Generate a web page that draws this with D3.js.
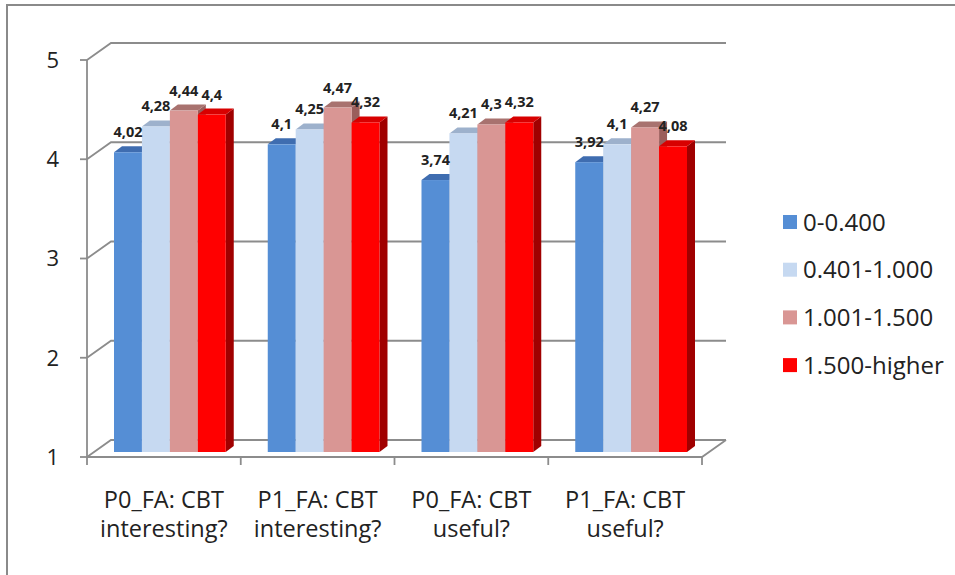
<!DOCTYPE html>
<html><head><meta charset="utf-8">
<script src="https://cdn.jsdelivr.net/npm/d3@7"></script>
<style>html,body{margin:0;padding:0;background:#fff;}svg{display:block;font-family:"Open Sans",sans-serif;}</style>
</head><body>
<svg id="c" width="955" height="575"></svg>
<script>
const categories = [["P0_FA: CBT","interesting?"],["P1_FA: CBT","interesting?"],["P0_FA: CBT","useful?"],["P1_FA: CBT","useful?"]];
const seriesNames = ["0-0.400","0.401-1.000","1.001-1.500","1.500-higher"];
const s1 = [4.02, 4.10, 3.74, 3.92];
const s2 = [4.28, 4.25, 4.21, 4.10];
const s3 = [4.44, 4.47, 4.30, 4.27];
const s4 = [4.40, 4.32, 4.32, 4.08];
const yTicks = [1,2,3,4,5];
const frontColors = ["#558ED5","#C6D9F1","#D99694","#FF0000"];
const topColors   = ["#3F6DB0","#9DB1CC","#A8726F","#D80000"];
const sideColors  = ["#2F5A95","#8FA3BE","#9A5E5C","#A00000"];

const series = [s1,s2,s3,s4];
const svg = d3.select("#c");
const DX = 24, DY = -17;       // wall depth
const bdx = 6, bdy = -5;       // bar front offset
const sdx = 8, sdy = -6;       // bar depth

const y = d3.scaleLinear().domain([1,5]).range([457,60]);
const x0 = d3.scaleBand().domain(d3.range(categories.length)).range([87,702]).padding(0);
const x1 = d3.scaleBand().domain(d3.range(series.length)).range([21, x0.bandwidth()-21]).padding(0);

// border
svg.append("rect").attr("x",7).attr("y",5).attr("width",1000).attr("height",1000)
  .attr("fill","#fff").attr("stroke","#8a8a8a").attr("stroke-width",2);

const grid = svg.append("g").attr("stroke","#8c8c8c").attr("stroke-width",1.8).attr("fill","none");
const x0min = x0.range()[0], x0max = x0.range()[1];
yTicks.forEach(v => {
  const yy = y(v);
  grid.append("path").attr("d", `M${x0min},${yy} L${x0min+DX},${yy+DY} L${x0max+DX},${yy+DY}`);
});
grid.append("line").attr("x1",x0min).attr("x2",x0min).attr("y1",y(5)).attr("y2",y(1));
yTicks.forEach(v => grid.append("line").attr("x1",x0min-7).attr("x2",x0min).attr("y1",y(v)).attr("y2",y(v)));
grid.append("path").attr("d", `M${x0min},${y(1)} L${x0max},${y(1)} L${x0max+DX},${y(1)+DY}`);
d3.range(categories.length+1).forEach(i => {
  const xx = x0min + i*x0.bandwidth();
  grid.append("line").attr("x1",xx).attr("x2",xx).attr("y1",y(1)).attr("y2",y(1)+8);
});

svg.append("g").selectAll("text").data(yTicks).join("text")
  .attr("x",59).attr("y",d=>y(d)).attr("dy","0.36em").attr("text-anchor","end")
  .attr("font-size",22).attr("fill","#222").text(d=>d);

const bars = svg.append("g");
categories.forEach((c,ci) => {
  series.forEach((s,si) => {
    const v = s[ci];
    const xl = x0(ci) + x1(si) + bdx;
    const xr = xl + x1.bandwidth();
    const yt = y(v) + bdy;
    const yb = y(1) + bdy;
    const g = bars.append("g");
    g.append("path").attr("fill",sideColors[si])
      .attr("d",`M${xr},${yt} L${xr+sdx},${yt+sdy} L${xr+sdx},${yb+sdy} L${xr},${yb} Z`);
    g.append("path").attr("fill",topColors[si])
      .attr("d",`M${xl},${yt} L${xl+sdx},${yt+sdy} L${xr+sdx},${yt+sdy} L${xr},${yt} Z`);
    g.append("rect").attr("fill",frontColors[si])
      .attr("x",xl).attr("y",yt).attr("width",x1.bandwidth()).attr("height",yb-yt);
  });
});

const fmt = v => String(+v.toFixed(2)).replace(".",",");
const labels = svg.append("g").attr("font-size",14.5).attr("font-weight","bold").attr("fill","#222").attr("text-anchor","middle");
categories.forEach((c,ci) => {
  series.forEach((s,si) => {
    const v = s[ci];
    labels.append("text")
      .attr("x", x0(ci) + x1(si) + bdx + x1.bandwidth()/2)
      .attr("y", y(v) + bdy - 15)
      .text(fmt(v));
  });
});

const cl = svg.append("g").attr("font-size",23.5).attr("fill","#222").attr("text-anchor","middle");
categories.forEach((c,ci) => {
  const t = cl.append("text").attr("x", x0(ci)+x0.bandwidth()/2).attr("y",508);
  c.forEach((line,li) => t.append("tspan").attr("x", x0(ci)+x0.bandwidth()/2).attr("y",508+li*29).text(line));
});

const lg = svg.append("g");
seriesNames.forEach((n,i) => {
  const cy = 222 + i*47.7;
  lg.append("rect").attr("x",783).attr("y",cy-7).attr("width",14).attr("height",14).attr("fill",frontColors[i]);
  lg.append("text").attr("x",803).attr("y",cy).attr("dy","0.36em").attr("font-size",24).attr("fill","#222").text(n);
});
</script>
</body></html>
